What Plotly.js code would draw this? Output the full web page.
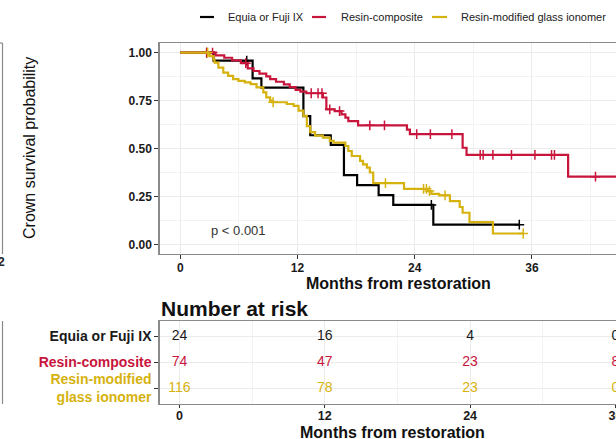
<!DOCTYPE html>
<html>
<head>
<meta charset="utf-8">
<script src="https://cdn.plot.ly/plotly-3.0.1.min.js"></script>
<style>html,body{margin:0;padding:0;background:#fff;}#chart{width:616px;height:439px;}</style>
</head>
<body>
<div id="chart"></div>
<script>
// ---------- data ----------
const groups = ['Equia or Fuji IX', 'Resin-composite', 'Resin-modified glass ionomer'];
const groupTickLabels = ['Equia or Fuji IX', 'Resin-composite', 'Resin-modified<br>glass ionomer'];
const colors = ['#000000', '#C8153C', '#D6B20E'];

// Equia or Fuji IX
const equiaEventTimes = [3.4, 7.4, 8.3, 12.6, 13.3, 15.4, 16.75, 18.1, 20.3, 21.8, 25.9];
const equiaSurv       = [0.958, 0.866, 0.817, 0.669, 0.569, 0.519, 0.361, 0.309, 0.257, 0.206, 0.103];
const equiaCensor     = [2.7, 6.8, 25.7, 34.7];

// Resin-composite
const rcEventTimes = [3.6, 4.5, 5.3, 6.2, 6.9, 7.5, 8.1, 8.8, 9.2, 9.8, 10.6, 11.2, 11.8, 12.3, 12.9,
                      14.6, 14.95, 15.8, 16.5, 16.9, 17.2, 18.2, 23.2, 23.5, 28.9, 29.3, 39.7];
const rcSurv       = [0.986, 0.973, 0.959, 0.945, 0.918, 0.904, 0.890, 0.876, 0.862, 0.848, 0.834, 0.820, 0.806, 0.797, 0.788,
                      0.766, 0.704, 0.695, 0.678, 0.661, 0.643, 0.621, 0.598, 0.575, 0.504, 0.467, 0.353];
const rcCensor     = [2.7, 3.3, 6.7, 13.4, 14.1, 14.5, 15.3, 16.3, 19.4, 20.9, 24.2, 25.6, 27.8,
                      30.7, 31.0, 32.0, 33.9, 36.3, 38.0, 38.3, 42.5, 45.5];

// Resin-modified glass ionomer
const rmgiEventTimes = [2.9, 3.0, 3.4, 3.5, 3.9, 4.4, 4.9, 5.4, 5.95, 6.6, 7.2, 7.8, 8.5, 8.8, 9.2,
                        9.4, 10.9, 11.6, 12.1, 12.6, 12.95, 13.3, 13.8, 14.6, 15.3, 15.7, 16.9, 17.2, 17.55, 18.4,
                        18.7, 19.1, 19.4, 19.75, 22.9, 25.3, 25.7, 26.5, 27.6, 28.6, 28.9, 29.6, 32.0];
const rmgiSurv       = [0.991, 0.982, 0.965, 0.948, 0.922, 0.896, 0.879, 0.862, 0.853, 0.845, 0.836, 0.819, 0.793, 0.767, 0.750,
                        0.741, 0.732, 0.722, 0.697, 0.670, 0.617, 0.585, 0.567, 0.557, 0.540, 0.531, 0.513, 0.487, 0.461, 0.435,
                        0.417, 0.400, 0.375, 0.320, 0.290, 0.278, 0.263, 0.256, 0.226, 0.195, 0.165, 0.116, 0.057];
const rmgiCensor     = [2.8, 9.5, 21.0, 24.9, 25.2, 25.5, 27.1, 35.1];

// Number at risk table
const riskTimes = [0, 12, 24, 36];
const riskEquia = [24, 16, 4, 0];
const riskRC    = [74, 47, 23, 8];
const riskRMGI  = [116, 78, 23, 0];

const xTicks = [0, 12, 24, 36];
const pValueText = 'p < 0.001';

// ---------- helpers ----------
const FONT = 'Liberation Sans, Arial, Helvetica, sans-serif';
function survAt(times, surv, t) {
  let s = 1;
  for (let i = 0; i < times.length; i++) { if (times[i] <= t) s = surv[i]; }
  return s;
}
const series = [
  {times: equiaEventTimes, surv: equiaSurv, cens: equiaCensor},
  {times: rcEventTimes, surv: rcSurv, cens: rcCensor},
  {times: rmgiEventTimes, surv: rmgiSurv, cens: rmgiCensor}
];

const traces = [];
series.forEach((s, i) => {
  const end = Math.max(...s.cens, ...s.times);
  traces.push({
    x: [0, ...s.times, end], y: [1, ...s.surv, s.surv[s.surv.length - 1]],
    type: 'scatter', mode: 'lines', line: {shape: 'hv', color: colors[i], width: 2.2},
    xaxis: 'x', yaxis: 'y', name: groups[i], hoverinfo: 'skip'
  });
  traces.push({
    x: s.cens, y: s.cens.map(t => survAt(s.times, s.surv, t)),
    type: 'scatter', mode: 'markers',
    marker: {symbol: 'cross-thin-open', size: 7, color: colors[i], line: {color: colors[i], width: 1.5}},
    xaxis: 'x', yaxis: 'y', hoverinfo: 'skip'
  });
});

const riskRows = [riskEquia, riskRC, riskRMGI];
riskRows.forEach((r, i) => {
  traces.push({
    x: riskTimes, y: riskTimes.map(() => 3 - i), text: r.map(String),
    type: 'scatter', mode: 'text', textposition: 'middle center', cliponaxis: false,
    textfont: {family: FONT, size: 14, color: i === 0 ? '#1a1a1a' : colors[i]},
    xaxis: 'x2', yaxis: 'y2', hoverinfo: 'skip'
  });
});

const W = 616, H = 439;
const px = v => v / W, py = v => 1 - v / H;

const axisCommon = {
  showline: true, linecolor: '#8a8a8a', linewidth: 1.2,
  ticks: 'outside', ticklen: 4, tickcolor: '#333', tickwidth: 1,
  showgrid: true, gridcolor: '#EBEBEB', gridwidth: 1, zeroline: false,
  tickfont: {family: FONT, size: 12, color: '#1a1a1a', weight: 'bold'}
};

const layout = {
  width: W, height: H, margin: {l: 0, r: 0, t: 0, b: 0},
  paper_bgcolor: '#fff', plot_bgcolor: '#fff', showlegend: false,
  xaxis: Object.assign({}, axisCommon, {
    domain: [px(159.5), 1], anchor: 'y', range: [-2.13, 44.6],
    tickmode: 'array', tickvals: xTicks, mirror: true, ticklabelstandoff: -2,
    minor: {dtick: 6, tick0: 0, showgrid: true, gridcolor: '#F3F3F3', ticks: ''}
  }),
  yaxis: Object.assign({}, axisCommon, {
    domain: [py(254), py(43)], anchor: 'x', range: [-0.05, 1.05],
    tickmode: 'linear', tick0: 0, dtick: 0.25, tickformat: '.2f',
    minor: {dtick: 0.125, tick0: 0, showgrid: true, gridcolor: '#F3F3F3', ticks: ''}
  }),
  xaxis2: Object.assign({}, axisCommon, {
    domain: [px(159.5), 1], anchor: 'y2', range: [-1.65, 36.05],
    tickmode: 'array', tickvals: xTicks, mirror: true, ticklen: 3, ticklabelstandoff: -3,
    ticklabeloverflow: 'allow',
    tickfont: {family: FONT, size: 12.5, color: '#1a1a1a', weight: 'bold'},
    minor: {dtick: 6, tick0: 0, showgrid: true, gridcolor: '#F3F3F3', ticks: ''}
  }),
  yaxis2: Object.assign({}, axisCommon, {
    domain: [py(404), py(321)], anchor: 'x2', range: [0.4, 3.6],
    tickmode: 'array', tickvals: [3, 2, 1],
    ticktext: groupTickLabels.map((t, i) => '<span style="color:' + (i === 0 ? '#1a1a1a' : colors[i]) + '">' + t + '</span>'),
    tickfont: {family: FONT, size: 14, color: '#1a1a1a', weight: 'bold'}
  }),
  shapes: [
    // legend keys
    {type: 'line', xref: 'paper', yref: 'paper', x0: px(200), x1: px(214), y0: py(17), y1: py(17), line: {color: colors[0], width: 2.2}},
    {type: 'line', xref: 'paper', yref: 'paper', x0: px(312), x1: px(326), y0: py(17), y1: py(17), line: {color: colors[1], width: 2.2}},
    {type: 'line', xref: 'paper', yref: 'paper', x0: px(432), x1: px(447), y0: py(17), y1: py(17), line: {color: colors[2], width: 2.2}},
    // remnants of neighbouring panels at the left edge
    {type: 'line', xref: 'paper', yref: 'paper', x0: px(2.5), x1: px(2.5), y0: py(43), y1: py(254), line: {color: '#8a8a8a', width: 1.2}},
    {type: 'line', xref: 'paper', yref: 'paper', x0: 0, x1: px(2.5), y0: py(43), y1: py(43), line: {color: '#8a8a8a', width: 1.2}},
    {type: 'line', xref: 'paper', yref: 'paper', x0: px(2.5), x1: px(2.5), y0: py(321), y1: py(404), line: {color: '#8a8a8a', width: 1.2}}
  ],
  annotations: [
    {xref: 'paper', yref: 'paper', x: px(226), y: py(17), xanchor: 'left', yanchor: 'middle', showarrow: false,
     text: groups[0], font: {family: FONT, size: 11, color: '#222'}},
    {xref: 'paper', yref: 'paper', x: px(339), y: py(17), xanchor: 'left', yanchor: 'middle', showarrow: false,
     text: groups[1], font: {family: FONT, size: 11, color: '#222'}},
    {xref: 'paper', yref: 'paper', x: px(459), y: py(17), xanchor: 'left', yanchor: 'middle', showarrow: false,
     text: groups[2], font: {family: FONT, size: 11, color: '#222'}},
    {xref: 'paper', yref: 'paper', x: px(29), y: py(148), xanchor: 'center', yanchor: 'middle', showarrow: false, textangle: -90,
     text: 'Crown survival probability', font: {family: FONT, size: 16, color: '#111'}},
    {xref: 'paper', yref: 'paper', x: px(398), y: py(283), xanchor: 'center', yanchor: 'middle', showarrow: false,
     text: '<b>Months from restoration</b>', font: {family: FONT, size: 16, color: '#111'}},
    {xref: 'x', yref: 'y', x: 6.0, y: 0.075, xanchor: 'center', yanchor: 'middle', showarrow: false,
     text: pValueText, font: {family: FONT, size: 13, color: '#333'}},
    {xref: 'paper', yref: 'paper', x: px(159), y: py(308), xanchor: 'left', yanchor: 'middle', showarrow: false,
     text: '<b>Number at risk</b>', font: {family: FONT, size: 21, color: '#111'}},
    {xref: 'paper', yref: 'paper', x: px(392), y: py(432.5), xanchor: 'center', yanchor: 'middle', showarrow: false,
     text: '<b>Months from restoration</b>', font: {family: FONT, size: 16, color: '#111'}},
    {xref: 'paper', yref: 'paper', x: px(1), y: py(262), xanchor: 'center', yanchor: 'middle', showarrow: false,
     text: '<b>2</b>', font: {family: FONT, size: 12, color: '#222'}}
  ]
};

Plotly.newPlot('chart', traces, layout, {displayModeBar: false, staticPlot: true});
</script>
</body>
</html>
